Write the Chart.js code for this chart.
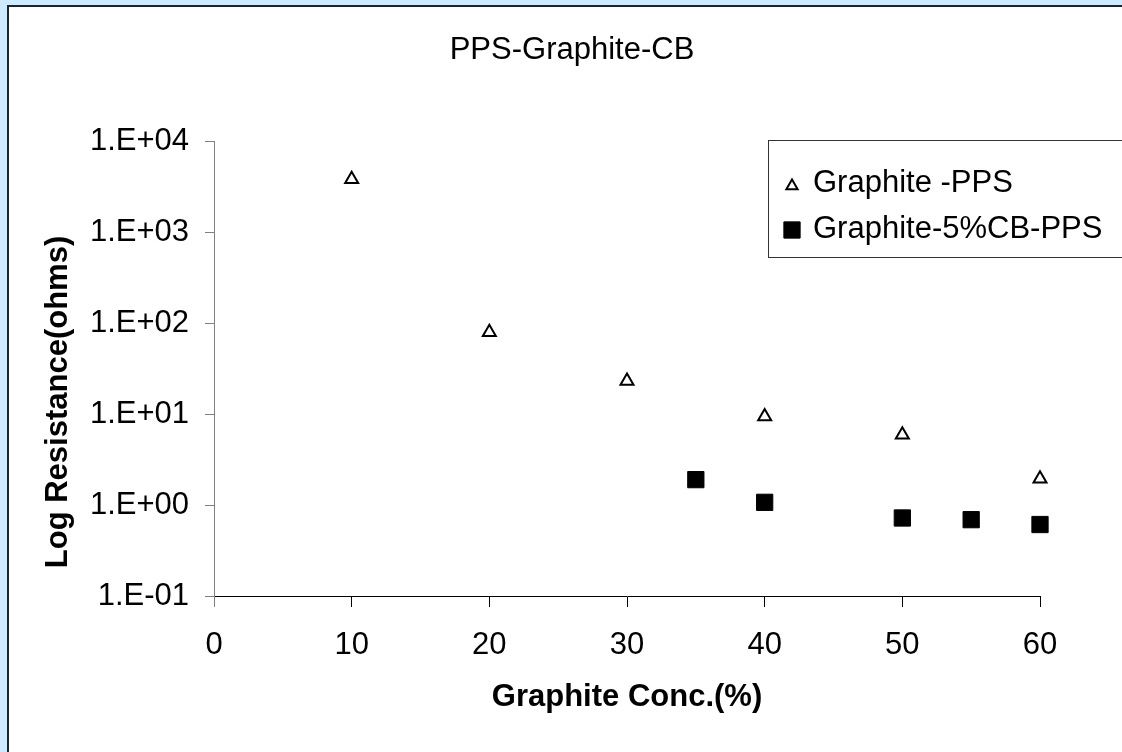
<!DOCTYPE html>
<html>
<head>
<meta charset="utf-8">
<title>PPS-Graphite-CB</title>
<script src="https://cdn.jsdelivr.net/npm/chart.js@4.4.1/dist/chart.umd.min.js"></script>
<style>
  html, body { margin: 0; padding: 0; background: #cdeafe; overflow: hidden; }
  #frame { position: absolute; left: 7px; top: 5px; width: 1113px; height: 745px; background: #fff;
           border-left: 2px solid #222; border-top: 2px solid #222; }
  #wrap { position: absolute; left: 0; top: 0; width: 1122px; height: 752px; }
</style>
</head>
<body>
<div id="frame"></div>
<div id="wrap"><canvas id="chart-resistance" width="1122" height="752"></canvas></div>
<script>
// resistance (ohms) vs graphite concentration (%)
const concGraphite = [10, 20, 30, 40, 50, 60]
const resGraphite = [3800, 79, 23, 9.4, 5.9, 1.94]
const concGraphiteCB = [35, 40, 50, 55, 60]
const resGraphiteCB = [1.9, 1.07, 0.72, 0.69, 0.61]
const seriesNames = ["Graphite -PPS", "Graphite-5%CB-PPS"]
const xTicks = [0, 10, 20, 30, 40, 50, 60]
const yTicks = [0.1, 1, 10, 100, 1000, 10000]

const FONT = "'Liberation Sans', Arial, sans-serif"

// 10000 -> "1.E+04"
function sciLabel(v) {
  const e = Math.round(Math.log10(v))
  const m = Math.round(v / Math.pow(10, e))
  return `${m}.E${e < 0 ? "-" : "+"}${String(Math.abs(e)).padStart(2, "0")}`
}

function toPoints(xs, ys) {
  return xs.map((x, i) => ({x: x, y: ys[i]}))
}

// title, rotated y title and the boxed legend are drawn by hand
const decorations = {
  id: "decorations",
  afterDraw(chart, args, opts) {
    const ctx = chart.ctx
    ctx.save()
    ctx.fillStyle = "#000"
    ctx.textAlign = "center"
    ctx.textBaseline = "middle"
    ctx.font = `31px ${FONT}`
    ctx.fillText(opts.title, opts.titleX, opts.titleY)

    ctx.save()
    ctx.translate(opts.yTitleX, opts.yTitleY)
    ctx.rotate(-Math.PI / 2)
    ctx.font = `bold 31px ${FONT}`
    ctx.fillText(opts.yTitle, 0, 0)
    ctx.restore()

    const lg = opts.legend
    ctx.strokeStyle = "#333"
    ctx.lineWidth = 1
    ctx.strokeRect(lg.left + 0.5, lg.top + 0.5, lg.width, lg.height)
    ctx.textAlign = "left"
    ctx.font = `31px ${FONT}`
    chart.data.datasets.forEach((ds, i) => {
      const y = lg.top + lg.firstRow + i * lg.rowHeight
      ctx.fillStyle = ds.backgroundColor
      ctx.strokeStyle = ds.borderColor
      ctx.lineWidth = ds.borderWidth
      Chart.helpers.drawPoint(ctx, {
        pointStyle: ds.pointStyle,
        radius: ds.pointStyle === "triangle" ? 6.5 : 11.5,
        borderWidth: ds.borderWidth
      }, lg.left + lg.iconX, y + lg.iconShift[i])
      ctx.fillStyle = "#000"
      ctx.fillText(ds.label, lg.left + lg.textX, y)
    })
    ctx.restore()
  }
}

new Chart(document.getElementById("chart-resistance"), {
  type: "scatter",
  data: {
    datasets: [{
      label: seriesNames[0],
      data: toPoints(concGraphite, resGraphite),
      clip: false,
      pointStyle: "triangle",
      pointRadius: 7.5,
      pointHoverRadius: 7.5,
      backgroundColor: "#fff",
      borderColor: "#000",
      borderWidth: 2
    }, {
      label: seriesNames[1],
      data: toPoints(concGraphiteCB, resGraphiteCB),
      clip: false,
      pointStyle: "rect",
      pointRadius: 11.5,
      pointHoverRadius: 11.5,
      backgroundColor: "#000",
      borderColor: "#000",
      borderWidth: 1
    }]
  },
  options: {
    responsive: false,
    animation: false,
    layout: {padding: {top: 141, right: 82, bottom: 0, left: 0}},
    plugins: {
      legend: {display: false},
      title: {display: false},
      tooltip: {enabled: false},
      decorations: {
        title: "PPS-Graphite-CB",
        titleX: 572,
        titleY: 50,
        yTitle: "Log Resistance(ohms)",
        yTitleX: 58,
        yTitleY: 402,
        legend: {left: 768, top: 140, width: 400, height: 117, firstRow: 43, rowHeight: 46,
                 iconX: 24, textX: 45, iconShift: [3, 1]}
      }
    },
    scales: {
      x: {
        type: "linear",
        min: 0,
        max: 60,
        afterBuildTicks: s => { s.ticks = xTicks.map(v => ({value: v})) },
        afterFit: s => { s.height = 156 },
        ticks: {color: "#000", padding: 20, font: {family: FONT, size: 31}},
        grid: {
          drawOnChartArea: false,
          tickLength: 11,
          color: c => (c.tick && c.tick.value === 0 ? "#808080" : "#000")
        },
        border: {color: "#000", width: 1},
        title: {
          display: true,
          text: "Graphite Conc.(%)",
          color: "#000",
          font: {family: FONT, size: 31, weight: "bold"},
          padding: {top: 0, bottom: 36}
        }
      },
      y: {
        type: "logarithmic",
        min: 0.1,
        max: 10000,
        afterBuildTicks: s => { s.ticks = yTicks.map(v => ({value: v, major: true})) },
        afterFit: s => { s.width = 214 },
        ticks: {color: "#000", padding: 16, font: {family: FONT, size: 31}, callback: v => sciLabel(v)},
        grid: {drawOnChartArea: false, tickLength: 9, color: "#808080"},
        border: {color: "#808080", width: 1}
      }
    }
  },
  plugins: [decorations]
})
</script>
</body>
</html>
